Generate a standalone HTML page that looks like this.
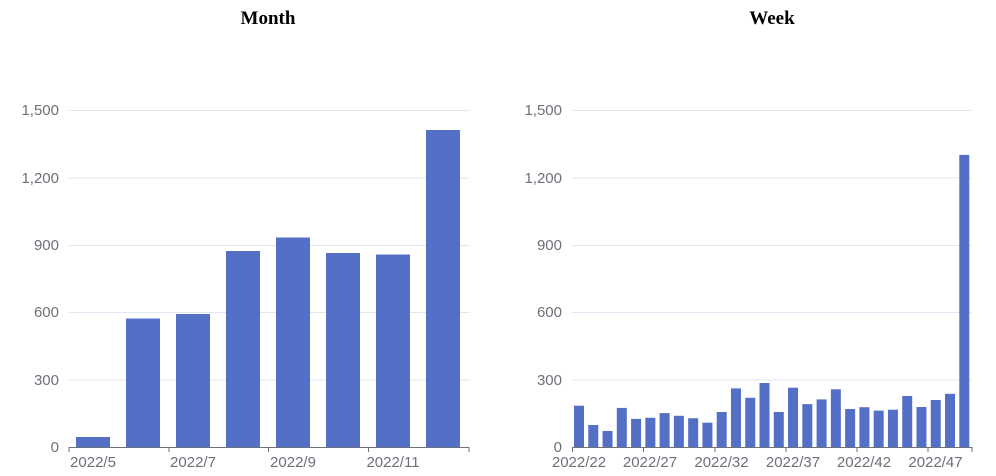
<!DOCTYPE html>
<html><head><meta charset="utf-8"><style>body{margin:0;background:#fff}svg{display:block}</style></head><body>
<svg width="996" height="476" xmlns="http://www.w3.org/2000/svg" font-family="Liberation Sans, sans-serif">
<text x="268" y="24" text-anchor="middle" font-family="Liberation Serif, serif" font-weight="bold" font-size="19">Month</text>
<text x="772" y="24" text-anchor="middle" font-family="Liberation Serif, serif" font-weight="bold" font-size="19">Week</text>
<g stroke="#e0e6f1" stroke-width="1">
<line x1="69" x2="469" y1="110.5" y2="110.5"/><line x1="69" x2="469" y1="178" y2="178"/><line x1="69" x2="469" y1="245.5" y2="245.5"/><line x1="69" x2="469" y1="312.5" y2="312.5"/><line x1="69" x2="469" y1="380" y2="380"/>
<line x1="572" x2="972" y1="110.5" y2="110.5"/><line x1="572" x2="972" y1="178" y2="178"/><line x1="572" x2="972" y1="245.5" y2="245.5"/><line x1="572" x2="972" y1="312.5" y2="312.5"/><line x1="572" x2="972" y1="380" y2="380"/>
</g>
<g fill="#6e7079" font-size="15" text-anchor="end">
<text x="59" y="115">1,500</text><text x="59" y="183">1,200</text><text x="59" y="250">900</text><text x="59" y="317">600</text><text x="59" y="385">300</text><text x="59" y="452">0</text>
<text x="562" y="115">1,500</text><text x="562" y="183">1,200</text><text x="562" y="250">900</text><text x="562" y="317">600</text><text x="562" y="385">300</text><text x="562" y="452">0</text>
</g>
<g fill="#5470c6">
<rect x="76" y="437" width="34" height="10"/>
<rect x="126" y="318.5" width="34" height="128.5"/>
<rect x="176" y="314" width="34" height="133"/>
<rect x="226" y="251" width="34" height="196"/>
<rect x="276" y="237.5" width="34" height="209.5"/>
<rect x="326" y="253" width="34" height="194"/>
<rect x="376" y="254.5" width="34" height="192.5"/>
<rect x="426" y="130" width="34" height="317"/>
</g>
<g fill="#5470c6">
<rect x="574" y="405.7" width="10" height="41.3"/>
<rect x="588.27" y="425" width="10" height="22"/>
<rect x="602.54" y="431" width="10" height="16"/>
<rect x="616.81" y="407.9" width="10" height="39.1"/>
<rect x="631.08" y="418.9" width="10" height="28.1"/>
<rect x="645.35" y="417.8" width="10" height="29.2"/>
<rect x="659.62" y="413.1" width="10" height="33.9"/>
<rect x="673.89" y="415.8" width="10" height="31.2"/>
<rect x="688.16" y="418.2" width="10" height="28.8"/>
<rect x="702.43" y="422.7" width="10" height="24.3"/>
<rect x="716.7" y="412" width="10" height="35"/>
<rect x="730.97" y="388.4" width="10" height="58.6"/>
<rect x="745.24" y="397.8" width="10" height="49.2"/>
<rect x="759.51" y="383" width="10" height="64"/>
<rect x="773.78" y="412" width="10" height="35"/>
<rect x="788.05" y="387.7" width="10" height="59.3"/>
<rect x="802.32" y="404.1" width="10" height="42.9"/>
<rect x="816.59" y="399.4" width="10" height="47.6"/>
<rect x="830.86" y="389.3" width="10" height="57.7"/>
<rect x="845.13" y="409" width="10" height="38"/>
<rect x="859.4" y="407.2" width="10" height="39.8"/>
<rect x="873.67" y="410.6" width="10" height="36.4"/>
<rect x="887.94" y="409.7" width="10" height="37.3"/>
<rect x="902.21" y="396" width="10" height="51"/>
<rect x="916.48" y="407" width="10" height="40"/>
<rect x="930.75" y="400" width="10" height="47"/>
<rect x="945.02" y="393.8" width="10" height="53.2"/>
<rect x="959.29" y="154.9" width="10" height="292.1"/>
</g>
<g stroke="#6e7079" stroke-width="1">
<line x1="69" x2="469" y1="447.5" y2="447.5"/>
<line x1="69" x2="69" y1="447" y2="452"/><line x1="169" x2="169" y1="447" y2="452"/><line x1="268.5" x2="268.5" y1="447" y2="452"/><line x1="368.5" x2="368.5" y1="447" y2="452"/><line x1="469" x2="469" y1="447" y2="452"/>
<line x1="572" x2="972" y1="447.5" y2="447.5"/>
<line x1="572.5" x2="572.5" y1="447" y2="452"/><line x1="643.5" x2="643.5" y1="447" y2="452"/><line x1="715" x2="715" y1="447" y2="452"/><line x1="786" x2="786" y1="447" y2="452"/><line x1="857" x2="857" y1="447" y2="452"/><line x1="928" x2="928" y1="447" y2="452"/><line x1="972" x2="972" y1="447" y2="452"/>
</g>
<g fill="#6e7079" font-size="15" text-anchor="middle">
<text x="93" y="467">2022/5</text><text x="193" y="467">2022/7</text><text x="293" y="467">2022/9</text><text x="393" y="467">2022/11</text>
<text x="579" y="467">2022/22</text><text x="650" y="467">2022/27</text><text x="721.5" y="467">2022/32</text><text x="793" y="467">2022/37</text><text x="864" y="467">2022/42</text><text x="935.5" y="467">2022/47</text>
</g>
</svg>
</body></html>
